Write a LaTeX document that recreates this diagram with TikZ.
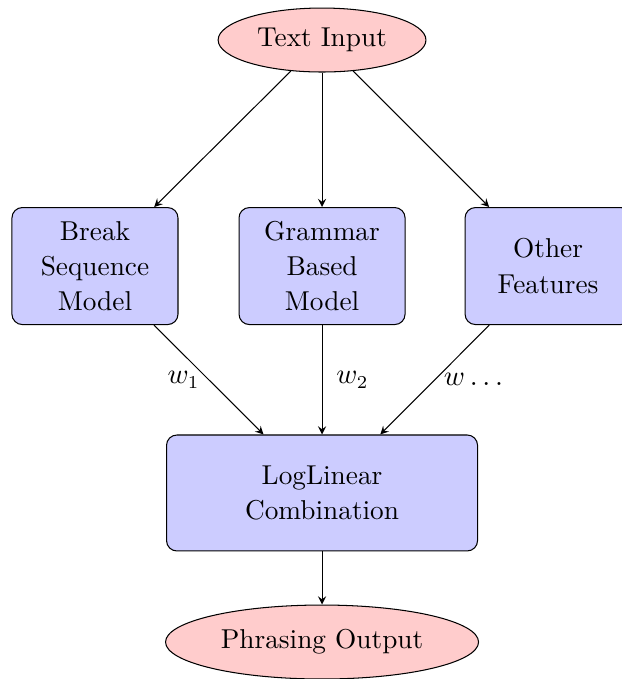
\documentclass[tikz,border=0pt]{standalone}
\usepackage{tikz,amsmath}
\usepackage{xcolor}
\usetikzlibrary{shapes.geometric}
\usetikzlibrary{positioning}
\usetikzlibrary{calc}

\tikzset{
  ioshape/.style={ellipse, draw, fill=red!20, inner sep=0pt},
  modelbox/.style={rectangle, draw, rounded corners=4pt, fill=blue!20,
    align=center, inner sep=2pt},
  flow/.style={-stealth, thin}
}

\begin{document}
\begin{tikzpicture}[font=\fontsize{10.5}{13.6}\selectfont]
\useasboundingbox (0,0) rectangle (8.396,-9.18);

\coordinate (in) at (4.354,-0.541);
\coordinate (m1) at (1.284,-3.597);
\coordinate (m2) at (4.354,-3.597);
\coordinate (m3) at (7.41,-3.597);
\coordinate (comb) at (4.354,-6.665);
\coordinate (out) at (4.354,-8.68);

\node[ioshape, minimum width=2.81cm, minimum height=0.865cm] (textin) at (in) {Text Input};

\node[modelbox, minimum width=2.245cm, minimum height=1.582cm] (bsm) at (m1) {Break\\Sequence\\Model};
\node[modelbox, minimum width=2.245cm, minimum height=1.582cm] (gbm) at (m2) {Grammar\\Based\\Model};
\node[modelbox, minimum width=2.245cm, minimum height=1.582cm] (other) at (m3) {Other\\Features};

\node[modelbox, minimum width=4.205cm, minimum height=1.568cm] (loglin) at (comb) {LogLinear\\Combination};

\node[ioshape, minimum width=4.232cm, minimum height=1.0cm] (phrase) at (out) {Phrasing Output};

\draw[flow] (textin)--(bsm);
\draw[flow] (textin)--(gbm);
\draw[flow] (textin)--(other);

\draw[flow] (bsm)--(loglin) node[midway, left=0pt]{$w_1$};
\draw[flow] (gbm)--(loglin) node[midway, right=2pt]{$w_2$};
\draw[flow] (other)--(loglin) node[midway, right=0pt]{$w\dots$};

\draw[flow] (loglin)--(phrase);
\end{tikzpicture}
\end{document}
